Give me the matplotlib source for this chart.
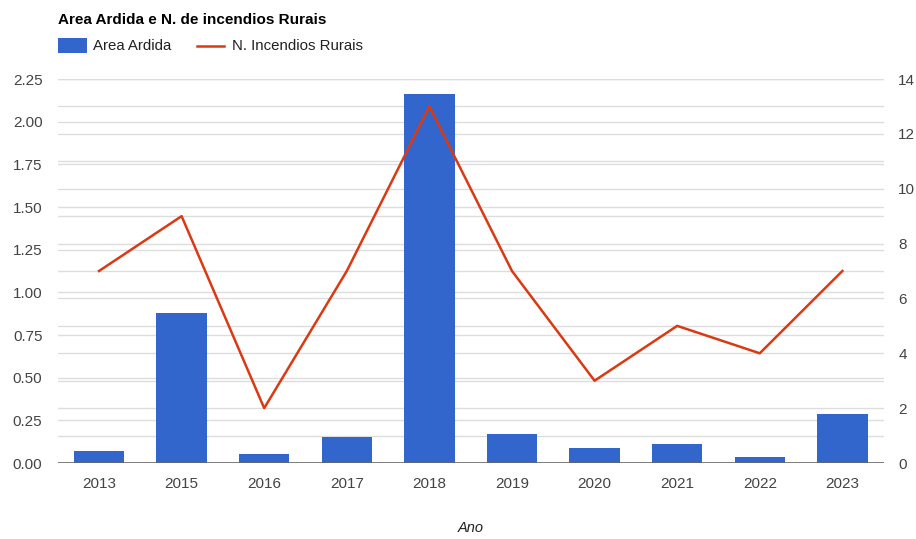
import matplotlib
matplotlib.use("Agg")
import matplotlib.pyplot as plt
import numpy as np
from matplotlib.patches import Rectangle
from matplotlib.lines import Line2D

# ---- dados ----
anos = ["2013", "2015", "2016", "2017", "2018", "2019", "2020", "2021", "2022", "2023"]
area_ardida = [0.07, 0.88, 0.05, 0.15, 2.16, 0.17, 0.09, 0.11, 0.035, 0.29]
n_incendios = [7, 9, 2, 7, 13, 7, 3, 5, 4, 7]
left_ticks = [0, 0.25, 0.5, 0.75, 1.0, 1.25, 1.5, 1.75, 2.0, 2.25]
right_ticks = [0, 2, 4, 6, 8, 10, 12, 14]

plt.rcParams['font.family'] = ['Liberation Sans', 'DejaVu Sans']

fig = plt.figure(figsize=(9.16, 5.39), dpi=100)
ax = fig.add_axes([0.063, 0.141, 0.9017, 0.7124])
ax2 = ax.twinx()

x = np.arange(len(anos))
grid_col = "#dddddd"

ax.set_ylim(0, 2.25)
ax2.set_ylim(0, 14)
ax.set_xlim(-0.5, len(anos) - 0.5)

# linhas de grelha dos dois eixos
for v in left_ticks[1:]:
    ax.axhline(v, color=grid_col, lw=1, zorder=0)
for v in range(1, 15):
    ax.axhline(v * 2.25 / 14, color=grid_col, lw=1, zorder=0)

ax.bar(x, area_ardida, width=0.61, color="#3366cc", zorder=2)
ax.axhline(0, color="#666666", lw=1.2, zorder=3)
ax2.plot(x, n_incendios, color="#dc3912", lw=1.8, zorder=4)

ax.set_yticks(left_ticks)
ax.set_yticklabels([f"{v:.2f}" for v in left_ticks])
ax2.set_yticks(right_ticks)
ax.set_xticks(x)
ax.set_xticklabels(anos)

for a in (ax, ax2):
    for s in a.spines.values():
        s.set_visible(False)
    a.tick_params(length=0, labelsize=11, labelcolor="#444444")
ax.tick_params(axis="y", pad=11)
ax.tick_params(axis="x", pad=10)
ax2.tick_params(axis="y", pad=10.5)

# titulo do eixo x posto a mao (fica no fundo da figura)
ax_box = ax.get_position()
fig.text(ax_box.x0 + ax_box.width / 2, 0.02, "Ano", fontsize=10.5, style="italic",
         color="#222222", ha="center", va="center")

# titulo e legenda
fig.text(0.063, 0.962, "Area Ardida e N. de incendios Rurais", fontsize=11,
         fontweight="bold", color="#000000", va="center")
fig.patches.append(Rectangle((0.063, 0.901), 0.032, 0.028, transform=fig.transFigure,
                             facecolor="#3366cc", edgecolor="none"))
fig.text(0.101, 0.914, "Area Ardida", fontsize=10.8, color="#222222", va="center")
fig.lines.append(Line2D([0.215, 0.245], [0.914, 0.914], transform=fig.transFigure,
                        color="#dc3912", lw=1.8))
fig.text(0.253, 0.914, "N. Incendios Rurais", fontsize=10.8, color="#222222", va="center")

fig.savefig("out.png", dpi=100)
